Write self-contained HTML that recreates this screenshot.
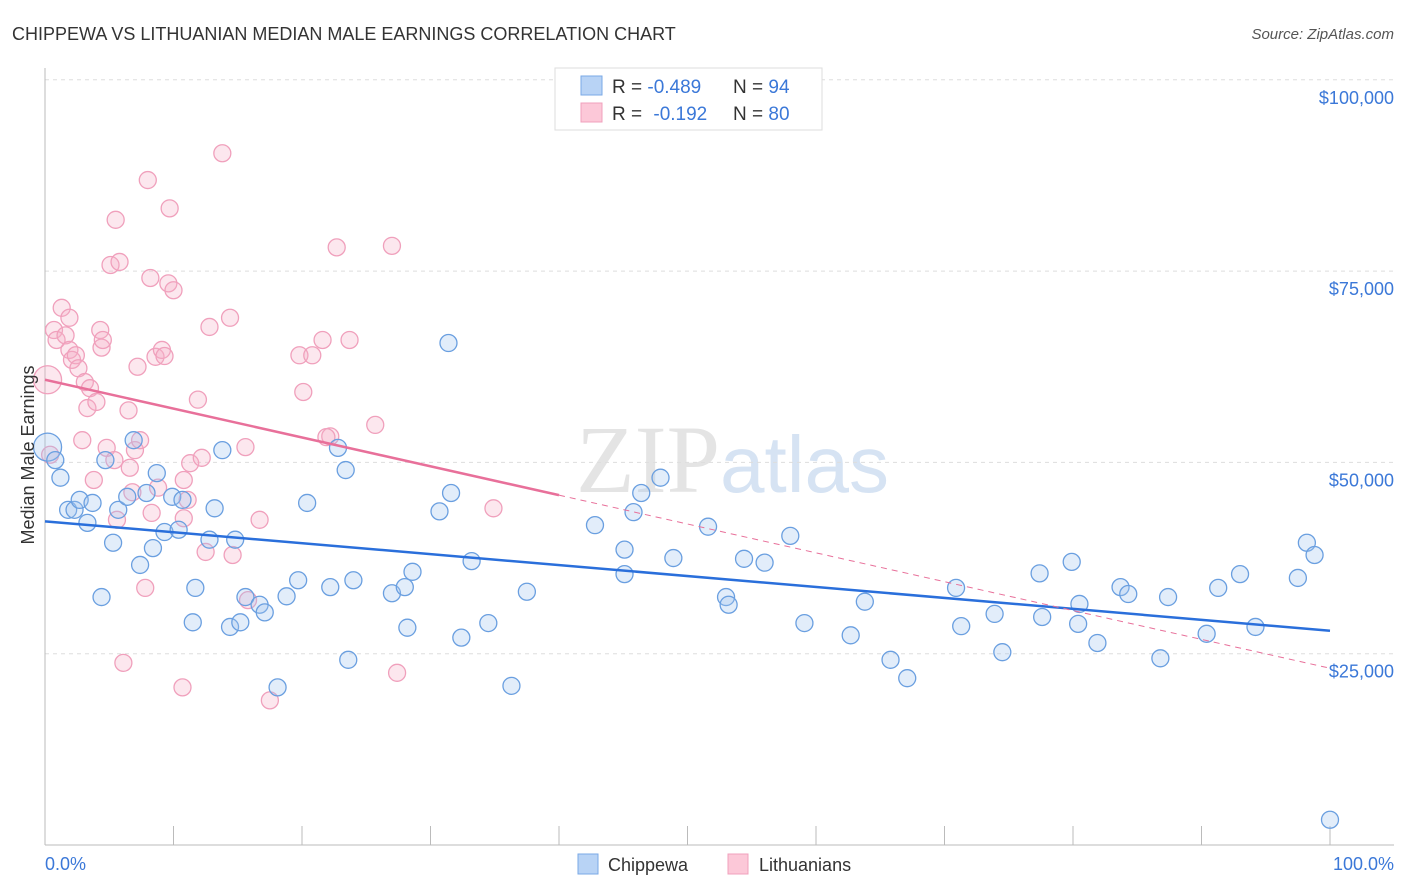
<!DOCTYPE html>
<html><head><meta charset="utf-8"><style>
body{margin:0;background:#fff;font-family:"Liberation Sans",sans-serif}
svg{display:block}
</style></head><body>
<svg id="c" width="1406" height="892">
<text x="12" y="40" font-size="18" fill="#333">CHIPPEWA VS LITHUANIAN MEDIAN MALE EARNINGS CORRELATION CHART</text>
<text x="1394" y="39" font-size="15" fill="#555" text-anchor="end" font-style="italic">Source: ZipAtlas.com</text>
<text x="720" y="492" font-size="96" fill="#e4e4e4" text-anchor="end" font-family="Liberation Serif">ZIP</text>
<text x="720" y="492" font-size="80" fill="#d6e3f3">atlas</text>
<g id="grid"></g><g id="pts"></g><g id="lines"></g>
<text transform="translate(34,455) rotate(-90)" font-size="18" fill="#333" text-anchor="middle">Median Male Earnings</text>
<text x="45" y="870" font-size="18" fill="#3b78d8">0.0%</text>
<text x="1394" y="870" font-size="18" fill="#3b78d8" text-anchor="end">100.0%</text>
<g>
<rect x="555" y="68" width="267" height="62" fill="#fff" stroke="#ddd"/>
<rect x="581" y="76" width="21" height="19" fill="#b8d3f5" stroke="#7aa8e6"/>
<rect x="581" y="103" width="21" height="19" fill="#fcc8d8" stroke="#f0a0bc"/>
<text x="612" y="93" font-size="19" fill="#333">R = <tspan fill="#3b78d8">-0.489</tspan><tspan x="733">N = </tspan><tspan fill="#3b78d8">94</tspan></text>
<text x="612" y="120" font-size="19" fill="#333">R = <tspan fill="#3b78d8" dx="6">-0.192</tspan><tspan x="733">N = </tspan><tspan fill="#3b78d8">80</tspan></text>
</g>
<g>
<rect x="578" y="854" width="20" height="20" fill="#b8d3f5" stroke="#7aa8e6"/>
<text x="608" y="871" font-size="18" fill="#333">Chippewa</text>
<rect x="728" y="854" width="20" height="20" fill="#fcc8d8" stroke="#f0a0bc"/>
<text x="759" y="871" font-size="18" fill="#333">Lithuanians</text>
</g>
</svg>
<script>
const yTicks=[25,50,75,100];
const yTickLabels=["$25,000","$50,000","$75,000","$100,000"];
const blueX=[0.2,0.8,1.2,1.8,2.3,2.7,3.3,3.7,4.4,4.7,5.3,5.7,6.4,6.9,7.4,7.9,8.4,8.7,9.3,9.9,10.4,10.7,11.7,11.5,12.8,13.2,13.8,14.4,14.8,15.2,15.6,16.7,17.1,18.1,18.8,19.7,20.4,22.2,22.8,23.4,23.6,24.0,27.0,28.0,28.6,28.2,30.7,31.4,31.6,32.4,33.2,34.5,36.3,37.5,42.8,45.1,45.1,45.8,46.4,47.9,48.9,51.6,53.0,53.2,54.4,56.0,58.0,59.1,62.7,63.8,65.8,67.1,70.9,71.3,73.9,74.5,77.4,77.6,79.9,80.5,80.4,81.9,83.7,84.3,86.8,87.4,90.4,91.3,93.0,94.2,97.5,98.2,98.8,100];
const blueY=[52.0,50.3,48.0,43.8,43.8,45.1,42.1,44.7,32.4,50.3,39.5,43.8,45.5,52.9,36.6,46.0,38.8,48.6,40.9,45.5,41.2,45.1,33.6,29.1,39.9,44.0,51.6,28.5,39.9,29.1,32.4,31.4,30.4,20.6,32.5,34.6,44.7,33.7,51.9,49.0,24.2,34.6,32.9,33.7,35.7,28.4,43.6,65.6,46.0,27.1,37.1,29.0,20.8,33.1,41.8,38.6,35.4,43.5,46.0,48.0,37.5,41.6,32.4,31.4,37.4,36.9,40.4,29.0,27.4,31.8,24.2,21.8,33.6,28.6,30.2,25.2,35.5,29.8,37.0,31.5,28.9,26.4,33.7,32.8,24.4,32.4,27.6,33.6,35.4,28.5,34.9,39.5,37.9,3.3];
const pinkX=[0.2,0.4,0.7,0.9,1.3,1.6,1.9,1.9,2.1,2.4,2.6,2.9,3.1,3.3,3.5,3.8,4.0,4.3,4.4,4.5,4.8,5.1,5.4,5.5,5.6,5.8,6.1,6.5,6.6,6.8,7.0,7.2,7.4,7.8,8.0,8.2,8.3,8.6,8.8,9.1,9.3,9.6,9.7,10.0,10.7,10.8,10.8,11.1,11.3,11.9,12.2,12.5,12.8,13.8,14.4,14.6,15.6,15.8,16.7,17.5,19.8,20.1,20.8,21.6,22.2,22.7,23.7,25.7,27.0,27.4,34.9,21.9];
const pinkY=[60.8,51.0,67.3,66.0,70.2,66.6,68.9,64.7,63.4,64.0,62.3,52.9,60.5,57.1,59.7,47.7,57.9,67.3,65.0,66.0,51.9,75.8,50.3,81.7,42.5,76.2,23.8,56.8,49.3,46.1,51.6,62.5,52.9,33.6,86.9,74.1,43.4,63.8,46.7,64.7,63.9,73.4,83.2,72.5,20.6,42.7,47.7,45.1,49.9,58.2,50.6,38.3,67.7,90.4,68.9,37.9,52.0,32.0,42.5,18.9,64.0,59.2,64.0,66.0,53.4,78.1,66.0,54.9,78.3,22.5,44.0,53.3];
const blueTrend=[42.3,28.0];
const pinkTrend=[60.8,23.1];
const pinkSolidEnd=40;
const NS="http://www.w3.org/2000/svg";
const xs=v=>45+v*12.85, ys=v=>845-v*7.652;
function mk(t,a,p){const e=document.createElementNS(NS,t);for(const k in a)e.setAttribute(k,a[k]);document.getElementById(p).appendChild(e);return e;}
yTicks.forEach((t,i)=>{const l=mk('line',{x1:45,x2:1394,y1:ys(t),y2:ys(t),stroke:'#ddd','stroke-dasharray':'4,4'},'grid');


const tx=mk('text',{x:1394,y:ys(t)+24,'font-size':18,fill:'#3b78d8','text-anchor':'end'},'grid');tx.textContent=yTickLabels[i];

});
const ax=mk('line',{x1:45,x2:45,y1:68,y2:845,stroke:'#bbb'},'grid');


const bx=mk('line',{x1:45,x2:1394,y1:845,y2:845,stroke:'#bbb'},'grid');


for(let i=0;i<=10;i++){const t=mk('line',{x1:xs(i*10),x2:xs(i*10),y1:826,y2:845,stroke:'#bbb'},'grid');

}
function pts(X,Y,fill,stroke,name){X.forEach((x,i)=>{const c=mk('circle',{cx:xs(x),cy:ys(Y[i]),r:i==0?14:8.5,fill:fill,stroke:stroke,'stroke-width':1.3},'pts');

});}
pts(pinkX,pinkY,'rgba(245,175,200,0.3)','#f0a0bc','lithuanian-point');
pts(blueX,blueY,'rgba(160,195,240,0.3)','#6a9fe0','chippewa-point');
const bl=mk('line',{x1:xs(0),y1:ys(blueTrend[0]),x2:xs(100),y2:ys(blueTrend[1]),stroke:'#2a6fdb','stroke-width':2.5},'lines');


const pv=p=>pinkTrend[0]+(pinkTrend[1]-pinkTrend[0])*p/100;
const pl=mk('line',{x1:xs(0),y1:ys(pv(0)),x2:xs(pinkSolidEnd),y2:ys(pv(pinkSolidEnd)),stroke:'#e8709a','stroke-width':2.5},'lines');


const pd=mk('line',{x1:xs(pinkSolidEnd),y1:ys(pv(pinkSolidEnd)),x2:xs(100),y2:ys(pv(100)),stroke:'#e8709a','stroke-width':1,'stroke-dasharray':'6,5'},'lines');


</script>
</body></html>
